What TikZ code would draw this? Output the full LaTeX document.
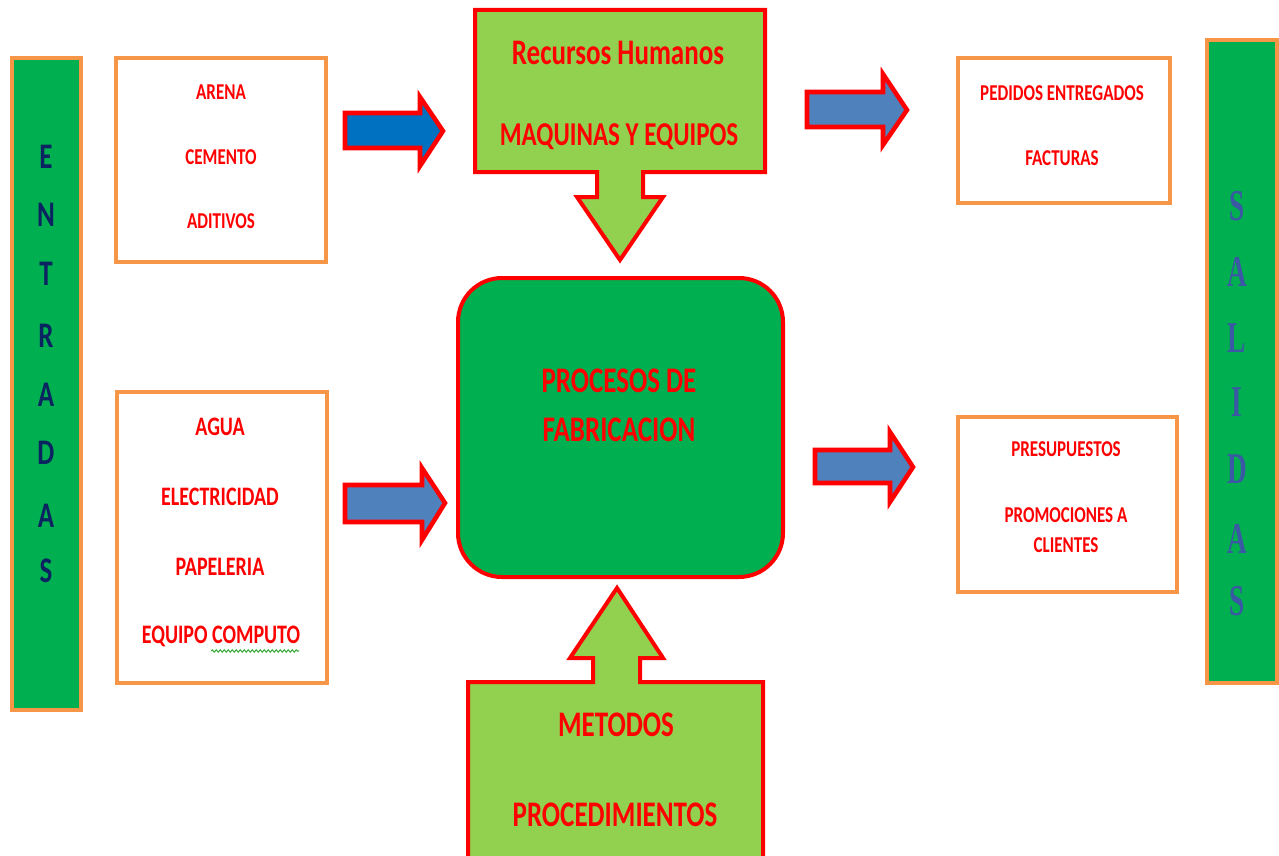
\documentclass[tikz,border=0pt]{standalone}
\usepackage{fontspec}
\setmainfont{Carlito}
\newfontfamily\lbl[FakeStretch=0.75]{Carlito}
\newfontfamily\salfont[FakeStretch=0.62]{Liberation Serif}
\usetikzlibrary{decorations.pathmorphing}

\definecolor{barGreen}{HTML}{00B050}
\definecolor{lightGreen}{HTML}{92D050}
\definecolor{edgeOrange}{HTML}{F79646}
\definecolor{edgeRed}{HTML}{FF0000}
\definecolor{txtRed}{HTML}{FF0000}
\definecolor{arrowBlue}{HTML}{0070C0}
\definecolor{steelBlue}{HTML}{4F81BD}
\definecolor{navyTxt}{HTML}{0B2360}
\definecolor{salBlue}{HTML}{3A58A3}
\definecolor{spellGreen}{HTML}{3DAE3D}

\tikzset{
  sidebar/.style={draw=edgeOrange, line width=2.4pt, fill=barGreen},
  listbox/.style={draw=edgeOrange, line width=2.4pt, fill=white},
  blockarrow/.style={draw=edgeRed, line width=3.4pt, line join=miter, miter limit=10},
  callout/.style={draw=edgeRed, line width=3pt, fill=lightGreen, line join=miter, miter limit=10},
  item/.style={text=txtRed, font=\lbl\bfseries\fontsize{17}{20}\selectfont, inner sep=0pt, anchor=center},
  biglist/.style={item, font=\lbl\bfseries\fontsize{20}{24}\selectfont},
  bigitem/.style={text=txtRed, font=\lbl\bfseries\fontsize{27}{32}\selectfont, inner sep=0pt, anchor=center},
  entletter/.style={text=navyTxt, font=\lbl\bfseries\fontsize{27}{30}\selectfont, inner sep=0pt},
  salletter/.style={text=salBlue, font=\salfont\bfseries\fontsize{33}{36}\selectfont, inner sep=0pt}
}

\begin{document}
\begin{tikzpicture}[x=0.75pt, y=-0.75pt]
\useasboundingbox (0,0) rectangle (1279,856);

% ENTRADAS side bar
\draw[sidebar] (12,58) rectangle (81,710);
\node[entletter] (e1) at (46,157) {E};
\node[entletter] (e2) at (46,215) {N};
\node[entletter] (e3) at (46,274) {T};
\node[entletter] (e4) at (46,336) {R};
\node[entletter] (e5) at (46,395) {A};
\node[entletter] (e6) at (46,453) {D};
\node[entletter] (e7) at (46,516) {A};
\node[entletter] (e8) at (46,571) {S};

% SALIDAS side bar
\draw[sidebar] (1207,40) rectangle (1277,683);
\node[salletter] (s1) at (1237,206) {S};
\node[salletter] (s2) at (1237,272) {A};
\node[salletter] (s3) at (1237,338) {L};
\node[salletter] (s4) at (1237,402) {I};
\node[salletter] (s5) at (1237,469) {D};
\node[salletter] (s6) at (1237,539) {A};
\node[salletter] (s7) at (1237,601) {S};

% input lists
\draw[listbox] (116,58) rectangle (326,262);
\node[item] (arena) at (221,92) {ARENA};
\node[item] (cemento) at (221,157) {CEMENTO};
\node[item] (aditivos) at (221,221) {ADITIVOS};

\draw[listbox] (117,392) rectangle (327,683);
\node[biglist] (agua) at (220,427) {AGUA};
\node[biglist] (elec) at (220,497) {ELECTRICIDAD};
\node[biglist] (pap) at (220,567) {PAPELERIA};
\node[biglist] (equipo) at (221,636) {EQUIPO COMPUTO};
\draw[spellGreen, line width=0.8pt, decorate,
      decoration={snake, amplitude=0.9pt, segment length=3pt}]
  (211,651) -- (299,651);

% output lists
\draw[listbox] (958,58) rectangle (1170,203);
\node[item] (pedidos) at (1062,93) {PEDIDOS ENTREGADOS};
\node[item] (facturas) at (1062,158) {FACTURAS};

\draw[listbox] (958,417) rectangle (1177,592);
\node[item] (presu) at (1066,449) {PRESUPUESTOS};
\node[item] (promo) at (1066,515) {PROMOCIONES A};
\node[item] (clientes) at (1066,545) {CLIENTES};

% central process
\draw[draw=edgeRed, line width=3pt, fill=barGreen, rounded corners=33pt]
  (458,278) rectangle (783,577);
\node[bigitem] (proc1) at (619,381) {PROCESOS DE};
\node[bigitem] (proc2) at (619,430) {FABRICACION};

% top resources callout pointing down
\draw[callout] (475,10) -- (765,10) -- (765,172) -- (643,172) -- (643,197)
  -- (663,197) -- (620,260) -- (577,197) -- (597,197) -- (597,172)
  -- (475,172) -- cycle;
\node[bigitem] (rrhh) at (618,53) {Recursos Humanos};
\node[bigitem, font=\lbl\bfseries\fontsize{25}{30}\selectfont] (maq) at (619,137) {MAQUINAS Y EQUIPOS};

% bottom methods callout pointing up
\draw[callout] (468,860) -- (468,682) -- (593,682) -- (593,658) -- (570,658)
  -- (617,588) -- (663,658) -- (640,658) -- (640,682) -- (763,682)
  -- (763,860);
\node[bigitem] (met) at (616,725) {METODOS};
\node[bigitem] (proced) at (615,815) {PROCEDIMIENTOS};

% block arrows
\draw[blockarrow, fill=arrowBlue] (345,113) -- (420,113) -- (420,97) -- (443,131)
  -- (420,166) -- (420,148) -- (345,148) -- cycle;
\draw[blockarrow, fill=steelBlue] (345,485) -- (422,485) -- (422,468) -- (445,503)
  -- (422,540) -- (422,522) -- (345,522) -- cycle;
\draw[blockarrow, fill=steelBlue] (807,92) -- (883,92) -- (883,74) -- (907,110)
  -- (883,145) -- (883,127) -- (807,127) -- cycle;
\draw[blockarrow, fill=steelBlue] (815,450) -- (890,450) -- (890,432) -- (913,467)
  -- (890,502) -- (890,483) -- (815,483) -- cycle;
\end{tikzpicture}
\end{document}
